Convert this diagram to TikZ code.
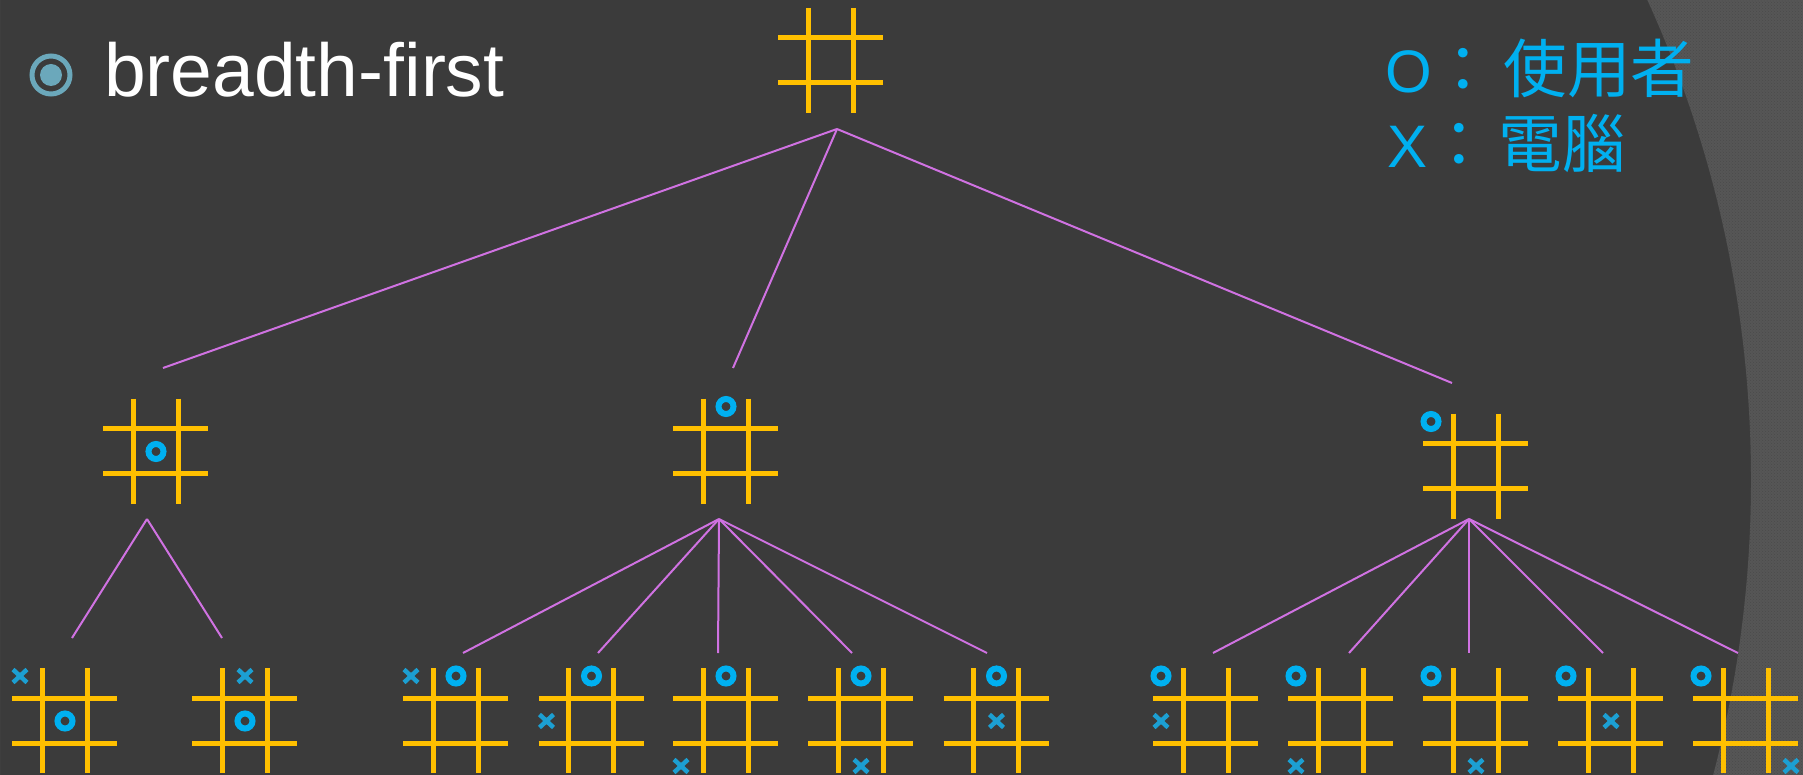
\documentclass[tikz,border=0pt]{standalone}
\usepackage{fontspec}
\setmainfont{Liberation Sans}
\newfontfamily\cjk[Scale=1.06]{Noto Sans CJK TC}
\usetikzlibrary{patterns}
\definecolor{slide}{HTML}{3B3B3B}
\definecolor{slidegrey}{HTML}{565656}
\definecolor{slidedots}{HTML}{4A4A4A}
\definecolor{gridgold}{HTML}{FFC000}
\definecolor{usercyan}{HTML}{00B0F0}
\definecolor{pccyan}{HTML}{1C9FD2}
\definecolor{linkpink}{HTML}{D072E2}
\definecolor{bulletblue}{HTML}{6BA8BB}
\tikzset{
  ttbox/.style={minimum size=105pt,inner sep=0pt,outer sep=0pt},
  ttline/.style={gridgold,line width=5pt},
  omark/.style={usercyan,line width=6pt},
  xmark/.style={pccyan,line width=4.5pt},
  tline/.style={linkpink,line width=2pt},
}
% board: name, centre x, centre y
\newcommand\tboard[3]{%
  \node[ttbox] (#1) at (#2,#3) {};
  \foreach \d in {-22.5,22.5}{
    \draw[ttline] ([shift={(-52.5,\d)}]#1.center) -- ([shift={(52.5,\d)}]#1.center);
    \draw[ttline] ([shift={(\d,-52.5)}]#1.center) -- ([shift={(\d,52.5)}]#1.center);
  }}
% marks: board, column, row
\newcommand\putO[3]{\draw[omark] ([shift={({45*#2-44.5},{45*#3-44.5})}]#1.center) circle (7.5);}
\newcommand\putX[3]{\draw[xmark] ([shift={({45*#2-44.5},{45*#3-44.5})}]#1.center)
  +(-7,-6.5) -- +(7,6.5) +(-7,6.5) -- +(7,-6.5);}
\begin{document}
\begin{tikzpicture}[x=1pt,y=-1pt]
  \useasboundingbox (0,0) rectangle (1803,775);
  \fill[slide] (0,0) rectangle (1803,775);
  \begin{scope}
    \clip (0,0) rectangle (1803,775);
    \fill[slidegrey,even odd rule] (0,0) rectangle (1803,775) (591,480) circle (1160);
    \fill[pattern=crosshatch dots,pattern color=slidedots,even odd rule]
      (0,0) rectangle (1803,775) (591,480) circle (1160);
  \end{scope}

  % heading and legend
  \node[circle,draw=bulletblue,line width=5pt,minimum size=38pt,inner sep=0pt] (bullet) at (51,75) {};
  \fill[bulletblue] (bullet.center) circle (11);
  \node[anchor=base west,inner sep=0pt,white,font=\fontsize{75}{80}\selectfont] (title) at (104,97) {breadth-first};
  \node[anchor=base west,inner sep=0pt,usercyan,font=\fontsize{60}{66}\selectfont] (user) at (1385,93)
    {O{\cjk ：}\hspace{8pt}{\cjk 使用者}};
  \node[anchor=base west,inner sep=0pt,usercyan,font=\fontsize{60}{66}\selectfont] (pc) at (1387,168)
    {X{\cjk ：}\hspace{8pt}{\cjk 電腦}};

  % link ends
  \coordinate (a0) at (837,129);
  \coordinate (a1) at (147,519);
  \coordinate (a2) at (719,519);
  \coordinate (a3) at (1469,519);
  \coordinate (t1) at (163,368);
  \coordinate (t2) at (733,368);
  \coordinate (t3) at (1452,383);
  \coordinate (u1) at (72,638);
  \coordinate (u2) at (222,638);
  \coordinate (v1) at (463,653);
  \coordinate (v2) at (598,653);
  \coordinate (v3) at (718,653);
  \coordinate (v4) at (852,653);
  \coordinate (v5) at (987,653);
  \coordinate (w1) at (1213,653);
  \coordinate (w2) at (1349,653);
  \coordinate (w3) at (1469,653);
  \coordinate (w4) at (1603,653);
  \coordinate (w5) at (1738,653);
  \foreach \e in {t1,t2,t3} \draw[tline] (a0) -- (\e);
  \foreach \e in {u1,u2} \draw[tline] (a1) -- (\e);
  \foreach \e in {v1,v2,v3,v4,v5} \draw[tline] (a2) -- (\e);
  \foreach \e in {w1,w2,w3,w4,w5} \draw[tline] (a3) -- (\e);

  % root and first moves
  \tboard{b0}{830.5}{60.5}
  \tboard{b1}{155.5}{451}
  \tboard{b2}{725.5}{451}
  \tboard{b3}{1475.5}{466}
  \putO{b1}{1}{1}
  \putO{b2}{1}{0}
  \putO{b3}{0}{0}

  % replies
  \tboard{c1}{64.5}{720.5}
  \tboard{c2}{244.5}{720.5}
  \tboard{c3}{455.5}{720.5}
  \tboard{c4}{591}{720.5}
  \tboard{c5}{725.5}{720.5}
  \tboard{c6}{860.5}{720.5}
  \tboard{c7}{996}{720.5}
  \tboard{c8}{1205.5}{720.5}
  \tboard{c9}{1340.5}{720.5}
  \tboard{c10}{1475.5}{720.5}
  \tboard{c11}{1610.5}{720.5}
  \tboard{c12}{1745.5}{720.5}
  \putX{c1}{0}{0} \putO{c1}{1}{1}
  \putX{c2}{1}{0} \putO{c2}{1}{1}
  \putX{c3}{0}{0} \putO{c3}{1}{0}
  \putX{c4}{0}{1} \putO{c4}{1}{0}
  \putO{c5}{1}{0} \putX{c5}{0}{2}
  \putO{c6}{1}{0} \putX{c6}{1}{2}
  \putO{c7}{1}{0} \putX{c7}{1}{1}
  \putO{c8}{0}{0} \putX{c8}{0}{1}
  \putO{c9}{0}{0} \putX{c9}{0}{2}
  \putO{c10}{0}{0} \putX{c10}{1}{2}
  \putO{c11}{0}{0} \putX{c11}{1}{1}
  \putO{c12}{0}{0} \putX{c12}{2}{2}
\end{tikzpicture}
\end{document}
